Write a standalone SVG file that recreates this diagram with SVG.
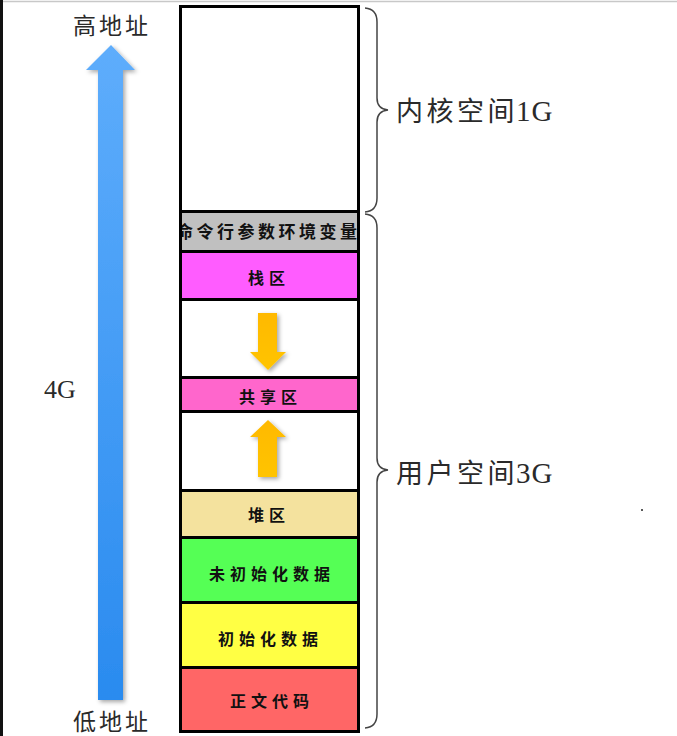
<svg xmlns="http://www.w3.org/2000/svg" width="677" height="736" viewBox="0 0 677 736">
<defs>
<style>
.cell{stroke:#000;stroke-width:3}
.ct{font-family:"Noto Sans CJK SC",sans-serif;font-size:16px;font-weight:bold;fill:#111;letter-spacing:5px}
.lab{font-family:"Liberation Serif","Noto Sans CJK SC",serif;fill:#2a2a2a}
.brace{fill:none;stroke:#444;stroke-width:1.5}
</style>
<linearGradient id="blue" x1="0" y1="0" x2="0" y2="1">
<stop offset="0" stop-color="#5EADFC"/>
<stop offset="1" stop-color="#2A8BEF"/>
</linearGradient>
<linearGradient id="orange" x1="0" y1="0" x2="0" y2="1">
<stop offset="0" stop-color="#FFB900"/>
<stop offset="1" stop-color="#FFC400"/>
</linearGradient>
<filter id="sh" x="-50%" y="-20%" width="200%" height="140%">
<feDropShadow dx="2" dy="2" stdDeviation="2" flood-color="#000" flood-opacity="0.35"/>
</filter>
<clipPath id="envclip"><rect x="182" y="213" width="176" height="37"/></clipPath>
</defs>
<rect x="0" y="0" width="677" height="736" fill="#fff"/>
<rect x="0" y="0" width="3" height="736" fill="#111"/>
<line x1="3" y1="1.5" x2="677" y2="1.5" stroke="#c8c8c8" stroke-width="1.5"/>
<g id="kernel"><rect class="cell" x="180.5" y="6.5" width="178" height="205" fill="#fff"/></g>
<g id="env"><rect class="cell" x="180.5" y="211.5" width="178" height="40" fill="#C0C0C0"/>
<text class="ct" x="176" y="238" clip-path="url(#envclip)" style="letter-spacing:3.5px;font-size:17px">命令行参数环境变量</text></g>
<g id="stack"><rect class="cell" x="180.5" y="251.5" width="178" height="48" fill="#FF5CFF"/>
<text class="ct" x="248" y="284">栈区</text></g>
<g id="gap1"><rect class="cell" x="180.5" y="299.5" width="178" height="78" fill="#fff"/></g>
<g id="shared"><rect class="cell" x="180.5" y="377.5" width="178" height="34" fill="#FF66CC"/>
<text class="ct" x="239" y="403">共享区</text></g>
<g id="gap2"><rect class="cell" x="180.5" y="411.5" width="178" height="79" fill="#fff"/></g>
<g id="heap"><rect class="cell" x="180.5" y="490.5" width="178" height="47" fill="#F4E29E"/>
<text class="ct" x="248" y="521">堆区</text></g>
<g id="bss"><rect class="cell" x="180.5" y="537.5" width="178" height="65" fill="#55FF55"/>
<text class="ct" x="209" y="580">未初始化数据</text></g>
<g id="data"><rect class="cell" x="180.5" y="602.5" width="178" height="65" fill="#FFFF44"/>
<text class="ct" x="218" y="645">初始化数据</text></g>
<g id="text"><rect class="cell" x="180.5" y="667.5" width="178" height="64" fill="#FF6666"/>
<text class="ct" x="230" y="707">正文代码</text></g>
<g id="connectors">
<path class="brace" d="M365,8 Q377,9 377,22 L377,98 Q377,109 388,110 Q377,111 377,122 L377,198 Q377,211 365,212"/>
<path class="brace" d="M365,214 Q377,215 377,228 L377,458 Q377,469 388,470 Q377,471 377,482 L377,714 Q377,727 365,728"/>
<path id="addr-arrow" filter="url(#sh)" fill="url(#blue)" d="M111,45 L135,70 L123,70 L123,700 L98,700 L98,70 L86,70 Z"/>
<path id="stack-arrow" filter="url(#sh)" fill="url(#orange)" d="M258,313 L277,313 L277,352 L286,352 L268,370 L250,352 L258,352 Z"/>
<path id="heap-arrow" filter="url(#sh)" fill="url(#orange)" d="M268,420 L286,437 L277,437 L277,477 L258,477 L258,437 L250,437 Z"/>
</g>
<g id="labels">
<text class="lab" x="73" y="34" style="font-size:23px;letter-spacing:3px">高地址</text>
<text class="lab" x="73" y="730" style="font-size:23px;letter-spacing:3px">低地址</text>
<text class="lab" x="44" y="398" style="font-size:26px">4G</text>
<text class="lab" x="396" y="121" style="font-size:27px;letter-spacing:3.5px">内核空间<tspan x="516" style="font-size:29px;letter-spacing:1px">1G</tspan></text>
<text class="lab" x="396" y="483" style="font-size:27px;letter-spacing:3.5px">用户空间<tspan x="516" style="font-size:29px;letter-spacing:1px">3G</tspan></text>
</g>
<circle cx="642" cy="510" r="1" fill="#222"/>
</svg>
